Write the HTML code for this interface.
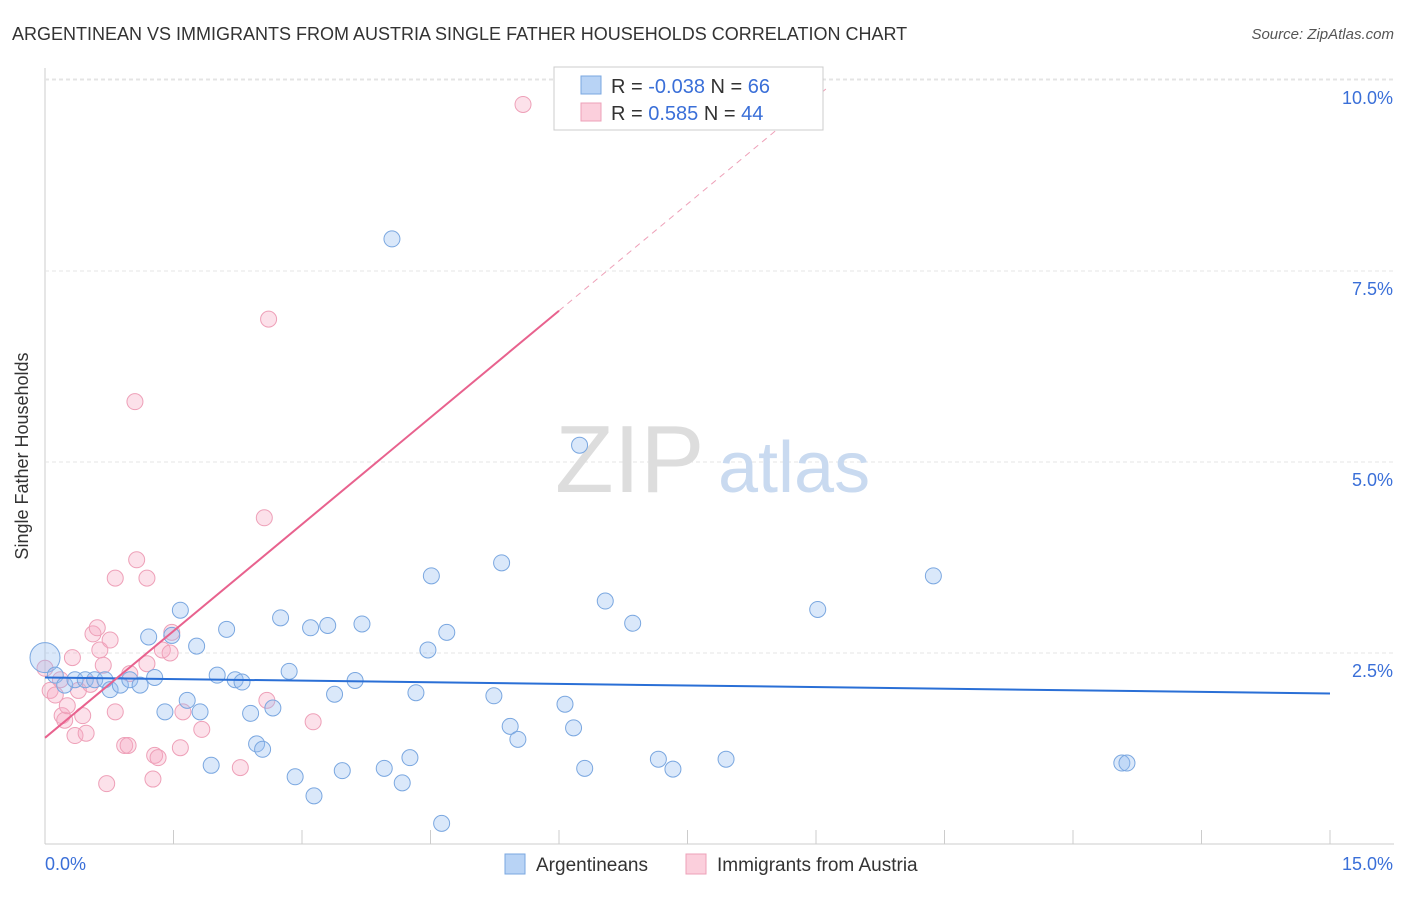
<!DOCTYPE html>
<html><head><meta charset="utf-8"><style>
body{margin:0;background:#fff;font-family:"Liberation Sans",sans-serif;}
svg text{font-family:"Liberation Sans",sans-serif;}
</style></head><body>
<svg width="1406" height="892" xmlns="http://www.w3.org/2000/svg">
<text x="12" y="40" font-size="18" fill="#333">ARGENTINEAN VS IMMIGRANTS FROM AUSTRIA SINGLE FATHER HOUSEHOLDS CORRELATION CHART</text>
<text x="1394" y="39" font-size="15" fill="#555" text-anchor="end" font-style="italic">Source: ZipAtlas.com</text>
<g id="grid"></g>
<text x="555" y="492" font-size="96" fill="#ddd" font-family="Liberation Serif">ZIP</text>
<text x="718" y="492" font-size="72" fill="#c9daf0">atlas</text>
<text x="28" y="456" font-size="18" fill="#333" text-anchor="middle" transform="rotate(-90 28 456)">Single Father Households</text>
<g id="pts"></g>
<g id="lines"></g>
<g>
<rect x="554" y="67" width="269" height="63" fill="#fff" stroke="#ccc"/>
<rect x="581" y="76" width="20" height="18" fill="#b8d3f5" stroke="#7aa7e0"/>
<rect x="581" y="103" width="20" height="18" fill="#fbcfdc" stroke="#eea0b8"/>
<text x="611" y="93" font-size="20" fill="#333">R = <tspan fill="#3a6fd8">-0.038</tspan>   N = <tspan fill="#3a6fd8">66</tspan></text>
<text x="611" y="120" font-size="20" fill="#333">R =   <tspan fill="#3a6fd8">0.585</tspan>   N = <tspan fill="#3a6fd8">44</tspan></text>
</g>
<g>
<rect x="505" y="854" width="20" height="20" fill="#b8d3f5" stroke="#7aa7e0"/>
<text x="536" y="871" font-size="19" fill="#333">Argentineans</text>
<rect x="686" y="854" width="20" height="20" fill="#fbcfdc" stroke="#eea0b8"/>
<text x="717" y="871" font-size="19" fill="#333">Immigrants from Austria</text>
</g>
</svg>
<script>
const xTicks=[0,1.5,3,4.5,6,7.5,9,10.5,12,13.5,15];
const yTicks=[2.5,5,7.5,10];
const yTickLabels=["2.5%","5.0%","7.5%","10.0%"];
const blueX=[0,0.12,0.23,0.35,0.47,0.58,0.7,0.76,0.88,0.99,1.11,1.21,1.28,1.4,1.48,1.58,1.66,1.77,1.81,1.94,2.01,2.12,2.22,2.3,2.4,2.47,2.54,2.66,2.75,2.85,2.92,3.1,3.14,3.3,3.38,3.47,3.62,3.7,3.96,4.05,4.17,4.26,4.33,4.47,4.51,4.63,4.69,5.24,5.33,5.43,5.52,6.07,6.17,6.24,6.3,6.54,6.86,7.16,7.33,7.95,9.02,10.37,12.57,12.63];
const blueY=[2.44,2.21,2.08,2.15,2.15,2.15,2.15,2.02,2.08,2.15,2.08,2.71,2.18,1.73,2.73,3.06,1.88,2.59,1.73,1.03,2.21,2.81,2.15,2.12,1.71,1.31,1.24,1.78,2.96,2.26,0.88,2.83,0.63,2.86,1.96,0.96,2.14,2.88,0.99,7.92,0.8,1.13,1.98,2.54,3.51,0.27,2.77,1.94,3.68,1.54,1.37,1.83,1.52,5.22,0.99,3.18,2.89,1.11,0.98,1.11,3.07,3.51,1.06,1.06];
const pinkX=[0,0.06,0.12,0.18,0.2,0.23,0.26,0.32,0.35,0.39,0.44,0.48,0.53,0.56,0.61,0.64,0.68,0.72,0.76,0.82,0.82,0.93,0.97,0.99,1.05,1.07,1.19,1.19,1.26,1.28,1.32,1.37,1.46,1.48,1.58,1.61,1.83,2.28,2.56,2.59,2.61,3.13,5.58];
const pinkY=[2.3,2.01,1.95,2.15,1.68,1.62,1.81,2.44,1.42,2.01,1.68,1.45,2.09,2.75,2.83,2.54,2.34,0.79,2.67,1.73,3.48,1.29,1.29,2.23,5.79,3.72,3.48,2.36,0.85,1.16,1.13,2.54,2.5,2.77,1.26,1.73,1.5,1.0,4.27,1.88,6.87,1.6,9.68];
const blueTrend=[2.18,1.97];
const pinkTrend=[1.39,6.98];
const NS="http://www.w3.org/2000/svg";
const X=v=>45+v*(1285/15), Y=v=>844-v*76.4;
function mk(t,a,p){const e=document.createElementNS(NS,t);for(const k in a)e.setAttribute(k,a[k]);p.appendChild(e);return e;}
const grid=document.getElementById('grid');
mk('line',{x1:45,y1:844,x2:1394,y2:844,stroke:'#ccc'},grid);
mk('line',{x1:45,y1:68,x2:45,y2:844,stroke:'#ccc'},grid);
mk('line',{x1:45,y1:79,x2:1394,y2:79,stroke:'#e4e4e4','stroke-dasharray':'4,3'},grid);
yTicks.forEach((v,i)=>{
 const l=mk('line',{x1:45,y1:Y(v),x2:1394,y2:Y(v),stroke:'#e4e4e4','stroke-dasharray':'4,3'},grid);
 
 
 const t=mk('text',{x:1393,y:Y(v)+24,'font-size':18,fill:'#3a6fd8','text-anchor':'end'},grid);
 t.textContent=yTickLabels[i];
 
 
});
xTicks.forEach(v=>{
 const l=mk('line',{x1:X(v),y1:830,x2:X(v),y2:844,stroke:'#ccc'},grid);
 
 
});
const t0=mk('text',{x:45,y:870,'font-size':18,fill:'#3a6fd8'},grid);t0.textContent='0.0%';


const t1=mk('text',{x:1393,y:870,'font-size':18,fill:'#3a6fd8','text-anchor':'end'},grid);t1.textContent='15.0%';


const pts=document.getElementById('pts');
pinkX.forEach((x,i)=>{const c=mk('circle',{cx:X(x),cy:Y(pinkY[i]),r:8,fill:'rgba(245,170,195,0.35)',stroke:'#eea0b8','stroke-width':1},pts);
 
 });
blueX.forEach((x,i)=>{const c=mk('circle',{cx:X(x),cy:Y(blueY[i]),r:i==0?15:8,fill:'rgba(150,190,240,0.35)',stroke:'#7aa7e0','stroke-width':1},pts);
 
 });
const ln=document.getElementById('lines');
const b=mk('line',{x1:X(0),y1:Y(blueTrend[0]),x2:X(15),y2:Y(blueTrend[1]),stroke:'#2a6fd6','stroke-width':2},ln);


const slope=(pinkTrend[1]-pinkTrend[0])/6;
const p=mk('line',{x1:X(0),y1:Y(pinkTrend[0]),x2:X(6),y2:Y(pinkTrend[1]),stroke:'#e8628e','stroke-width':2},ln);


const pd=mk('line',{x1:X(6),y1:Y(pinkTrend[1]),x2:X(9.15),y2:Y(pinkTrend[0]+slope*9.15),stroke:'#eea0b8','stroke-width':1,'stroke-dasharray':'6,5'},ln);


</script>
</body></html>
